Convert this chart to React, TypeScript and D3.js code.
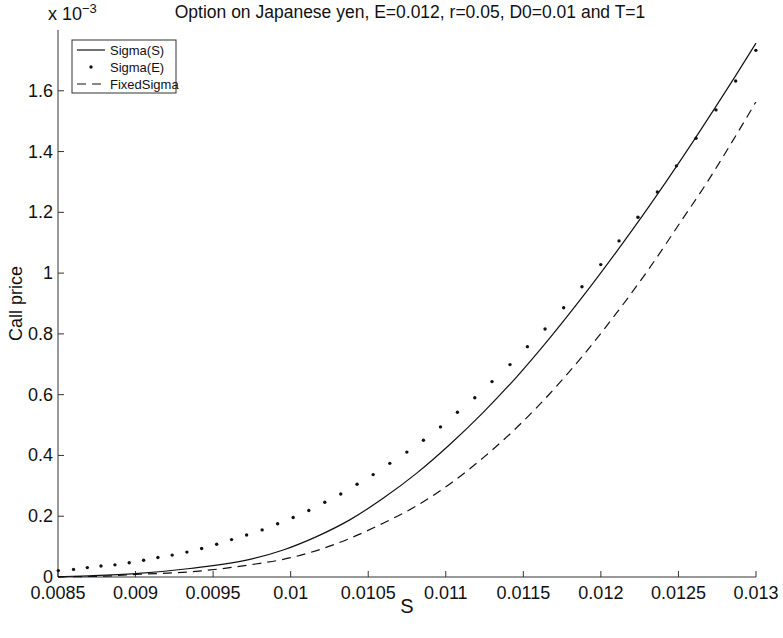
import React from "react";
import * as d3 from "d3";

const title = "Option on Japanese yen, E=0.012, r=0.05, D0=0.01 and T=1";
const xLabel = "S";
const yLabel = "Call price";
const xTicks = [0.0085, 0.009, 0.0095, 0.01, 0.0105, 0.011, 0.0115, 0.012, 0.0125, 0.013];
const xTickLabels = ["0.0085", "0.009", "0.0095", "0.01", "0.0105", "0.011", "0.0115", "0.012", "0.0125", "0.013"];
const yTicks = [0, 0.2, 0.4, 0.6, 0.8, 1, 1.2, 1.4, 1.6];
const yTickLabels = ["0", "0.2", "0.4", "0.6", "0.8", "1", "1.2", "1.4", "1.6"];
const legendLabels = ["Sigma(S)", "Sigma(E)", "FixedSigma"];

// Sigma(S) — solid line (values in 1e-3)
const sigmaS_x = [0.0085, 0.0087, 0.009, 0.00935, 0.009737, 0.009952, 0.010167, 0.010381, 0.010596, 0.010811, 0.011026, 0.01124, 0.011456, 0.01167, 0.011885, 0.0121, 0.012314, 0.012422, 0.01261, 0.01274, 0.012869, 0.013];
const sigmaS_y = [0.001, 0.004, 0.011, 0.028, 0.058, 0.089, 0.133, 0.188, 0.259, 0.341, 0.436, 0.541, 0.658, 0.786, 0.924, 1.07, 1.222, 1.302, 1.445, 1.547, 1.65, 1.757];

// Sigma(E) — dots
const sigmaE_x = [0.008502, 0.0086, 0.008689, 0.008777, 0.008867, 0.008959, 0.009052, 0.009144, 0.009236, 0.009331, 0.009426, 0.009523, 0.009619, 0.009716, 0.009816, 0.009916, 0.010016, 0.010117, 0.01022, 0.010323, 0.010428, 0.010532, 0.010639, 0.010749, 0.010856, 0.010966, 0.011075, 0.011187, 0.011298, 0.011414, 0.011526, 0.01164, 0.01176, 0.011878, 0.011999, 0.012117, 0.012239, 0.012364, 0.012487, 0.012613, 0.012742, 0.012869, 0.012999];
const sigmaE_y = [0.021, 0.025, 0.031, 0.036, 0.04, 0.047, 0.055, 0.064, 0.072, 0.082, 0.094, 0.108, 0.123, 0.138, 0.155, 0.175, 0.196, 0.219, 0.246, 0.273, 0.305, 0.337, 0.374, 0.411, 0.45, 0.494, 0.542, 0.59, 0.643, 0.699, 0.758, 0.816, 0.886, 0.955, 1.028, 1.106, 1.184, 1.267, 1.353, 1.444, 1.537, 1.632, 1.733];

// FixedSigma — dashed line
const fixed_x = [0.0085, 0.0088, 0.009028, 0.009351, 0.009802, 0.009952, 0.010167, 0.010381, 0.010596, 0.010811, 0.011026, 0.01124, 0.011456, 0.01167, 0.011885, 0.0121, 0.012314, 0.012529, 0.01268, 0.01284, 0.013];
const fixed_y = [0.0005, 0.003, 0.009, 0.017, 0.045, 0.058, 0.087, 0.127, 0.177, 0.234, 0.306, 0.392, 0.491, 0.603, 0.729, 0.868, 1.017, 1.18, 1.295, 1.427, 1.564];

const W = 783;
const H = 638;
const X0 = 58, X1 = 756, Y0 = 577, Y1 = 30;
const FONT = "'Liberation Sans', Arial, Helvetica, sans-serif";

export default function App() {
  const x = d3.scaleLinear().domain([0.0085, 0.013]).range([X0, X1]);
  const y = d3.scaleLinear().domain([0, 1.8]).range([Y0, Y1]);
  const mk = (xs: number[], ys: number[]) =>
    d3.line<number>().x((d) => x(d)).y((_, i) => y(ys[i])).curve(d3.curveMonotoneX)(xs) || "";
  const solidPath = mk(sigmaS_x, sigmaS_y);
  const dashedPath = mk(fixed_x, fixed_y);
  const col = "#111";
  const lx = 72, ly = 40, lw = 104, lh = 53;
  return (
    <svg width={W} height={H} style={{ position: "absolute", left: 0, top: 0, background: "#fff" }} fontFamily={FONT}>
      <rect x={0} y={0} width={W} height={H} fill="#fff" />
      {/* axes */}
      <line x1={X0} x2={X0} y1={Y1} y2={Y0} stroke="#333" strokeWidth={1} />
      <line x1={X0} x2={X1} y1={Y0} y2={Y0} stroke="#333" strokeWidth={1} />
      {xTicks.map((t, i) => (
        <g key={"xt" + i}>
          <line x1={x(t)} x2={x(t)} y1={Y0} y2={Y0 - 6} stroke="#333" />
          <text x={x(t)} y={Y0 + 22} fontSize={18} textAnchor="middle" fill="#111">{xTickLabels[i]}</text>
        </g>
      ))}
      {yTicks.map((t, i) => (
        <g key={"yt" + i}>
          <line x1={X0} x2={X0 + 6} y1={y(t)} y2={y(t)} stroke="#333" />
          <text x={X0 - 5} y={y(t) + 6} fontSize={18} textAnchor="end" fill="#111">{yTickLabels[i]}</text>
        </g>
      ))}
      <text x={48} y={20} fontSize={18} fill="#111">
        x 10<tspan dy={-7} fontSize={13}>−3</tspan>
      </text>
      <text x={410} y={18} fontSize={17.5} textAnchor="middle" fill="#111">{title}</text>
      <text x={(X0 + X1) / 2} y={613} fontSize={20} textAnchor="middle" fill="#111">{xLabel}</text>
      <text transform={`translate(22, ${(Y0 + Y1) / 2}) rotate(-90)`} fontSize={18} textAnchor="middle" fill="#111">{yLabel}</text>
      {/* data */}
      <path d={solidPath} fill="none" stroke={col} strokeWidth={1.2} />
      <path d={dashedPath} fill="none" stroke={col} strokeWidth={1.2} strokeDasharray="9,6" />
      {sigmaE_x.map((d, i) => (
        <circle key={"d" + i} cx={x(d)} cy={y(sigmaE_y[i])} r={1.7} fill={col} />
      ))}
      {/* legend */}
      <rect x={lx} y={ly} width={lw} height={lh} fill="#fff" stroke="#333" strokeWidth={1} />
      <line x1={lx + 5} x2={lx + 33} y1={ly + 10} y2={ly + 10} stroke={col} strokeWidth={1.2} />
      <circle cx={lx + 19} cy={ly + 27} r={1.7} fill={col} />
      <line x1={lx + 5} x2={lx + 33} y1={ly + 44} y2={ly + 44} stroke={col} strokeWidth={1.2} strokeDasharray="9,6" />
      {legendLabels.map((l, i) => (
        <text key={"l" + i} x={lx + 38} y={ly + 15 + i * 17} fontSize={13} fill="#111">{l}</text>
      ))}
    </svg>
  );
}
